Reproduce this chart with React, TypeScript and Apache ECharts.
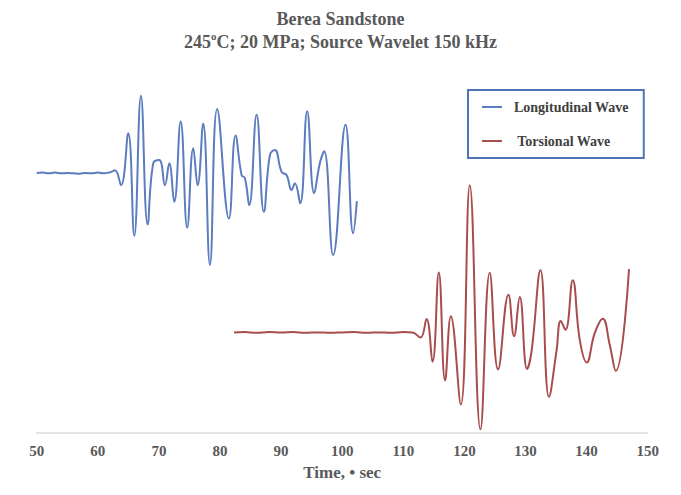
import { useEffect, useRef } from 'react'
import * as echarts from 'echarts'

// Longitudinal (blue) trace: time in µs, amplitude in arbitrary offset units
const longTime = [
  50.0, 51.0, 52.0, 53.0, 54.0, 55.0, 56.0, 57.0, 58.0, 59.0, 60.0, 61.0, 62.0, 62.8,
  63.8, 64.98, 65.97, 67.06, 68.16, 69.07, 70.06, 70.99, 71.69, 72.51, 73.56, 74.64,
  75.62, 76.34, 77.25, 78.35, 79.54, 81.46, 82.55, 83.54, 84.08, 84.78, 85.99, 87.18,
  88.17, 88.98, 90.08, 90.9, 91.71, 92.25, 93.12, 94.27, 95.41, 96.34, 97.05, 98.52,
  100.55, 101.79, 102.4,
]
const longAmp = [
  70.2, 70.3, 70.1, 70.3, 70.1, 70.2, 70.1, 70.0, 70.2, 70.1, 70.3, 70.1, 70.4, 70.9,
  66.9, 80.9, 53.2, 91.1, 56.3, 72.8, 73.7, 66.9, 72.8, 62.4, 84.1, 55.4,
  76.9, 66.9, 83.6, 45.3, 87.5, 57.9, 80.3, 69.6, 68.8, 61.5, 85.9, 59.7,
  75.1, 76.4, 70.5, 69.6, 65.6, 67.4, 62.0, 86.9, 64.7, 72.8, 76.1, 48.0,
  83.2, 53.9, 62.6,
]

// Torsional (red) trace
const torsTime = [
  82.3, 84, 86, 88, 90, 92, 94, 96, 98, 100, 102, 104, 106, 108, 110, 111.5,
  112.8, 113.8, 114.78, 115.81, 116.84, 117.78, 119.41, 120.88, 122.63, 124.15,
  125.51, 127.21, 128.13, 129.06, 130.26, 130.98, 132.45, 133.85, 135.06, 135.77,
  136.54, 137.73, 138.88, 140.02, 141.33, 142.64, 143.79, 144.77, 146.94,
]
const torsAmp = [
  27.1, 27.2, 27.0, 27.2, 27.1, 27.2, 27.0, 27.1, 27.0, 27.1, 27.2, 27.0, 27.1, 27.0, 27.2, 27.1,
  25.7, 30.7, 19.2, 43.3, 14.1, 31.5, 7.6, 66.9, 0.9, 43.2,
  17.1, 37.3, 26.1, 36.7, 17.2, 21.9, 43.9, 9.7, 21.9, 30.2,
  27.8, 41.2, 25.1, 19.0, 26.9, 30.8, 23.7, 16.7, 44.2,
]

const seriesNames = ['Longitudinal Wave', 'Torsional Wave']

const serif = '"Liberation Serif", "Times New Roman", serif'

export default function App() {
  const ref = useRef<HTMLDivElement>(null)

  useEffect(() => {
    if (!ref.current) return
    const chart = echarts.init(ref.current, undefined, { renderer: 'svg' })
    chart.setOption({
      animation: false,
      backgroundColor: '#ffffff',
      title: {
        left: 'center',
        top: 2,
        text: 'Berea Sandstone\n245{sup|o}C; 20 MPa; Source Wavelet 150 kHz',
        textStyle: {
          fontFamily: serif,
          fontWeight: 'bold',
          fontSize: 18,
          color: '#595959',
          lineHeight: 23,
          rich: {
            sup: { fontFamily: serif, fontWeight: 'bold', fontSize: 11, color: '#595959', verticalAlign: 'top', lineHeight: 12 },
          },
        },
      },
      legend: {
        orient: 'vertical',
        left: 468,
        top: 90,
        icon: 'rect',
        itemWidth: 20,
        itemHeight: 2,
        itemGap: 20,
        padding: [10, 15, 10, 14],
        borderColor: '#4f74b8',
        borderWidth: 2,
        formatter: (n: string) => (n === 'Torsional Wave' ? ' ' + n : n),
        textStyle: { fontFamily: serif, fontWeight: 'bold', fontSize: 14, color: '#404040', padding: [0, 0, 0, 7] },
        data: seriesNames,
      },
      grid: { left: 36.7, right: 33.3, top: 62.7, bottom: 62.3 },
      xAxis: {
        type: 'value',
        min: 50,
        max: 150,
        interval: 10,
        name: 'Time, • sec',
        nameLocation: 'middle',
        nameGap: 28,
        nameTextStyle: { fontFamily: serif, fontWeight: 'bold', fontSize: 17, color: '#595959' },
        axisLine: { lineStyle: { color: '#d9d9d9', width: 1.5 } },
        axisTick: { show: false },
        splitLine: { show: false },
        axisLabel: { margin: 11, fontFamily: serif, fontWeight: 'bold', fontSize: 15, color: '#595959' },
      },
      yAxis: { type: 'value', min: 0, max: 100, show: false },
      series: [
        {
          name: seriesNames[0],
          type: 'line',
          data: longTime.map((t, i) => [t, longAmp[i]]),
          symbol: 'none',
          smooth: 0.45,
          itemStyle: { color: '#5b7cbf' },
          lineStyle: { color: '#5b7cbf', width: 2 },
        },
        {
          name: seriesNames[1],
          type: 'line',
          data: torsTime.map((t, i) => [t, torsAmp[i]]),
          symbol: 'none',
          smooth: 0.45,
          itemStyle: { color: '#a84d4d' },
          lineStyle: { color: '#a84d4d', width: 2 },
        },
      ],
    })
    return () => chart.dispose()
  }, [])

  return <div ref={ref} style={{ position: 'absolute', left: 0, top: 0, width: 681, height: 495 }} />
}
